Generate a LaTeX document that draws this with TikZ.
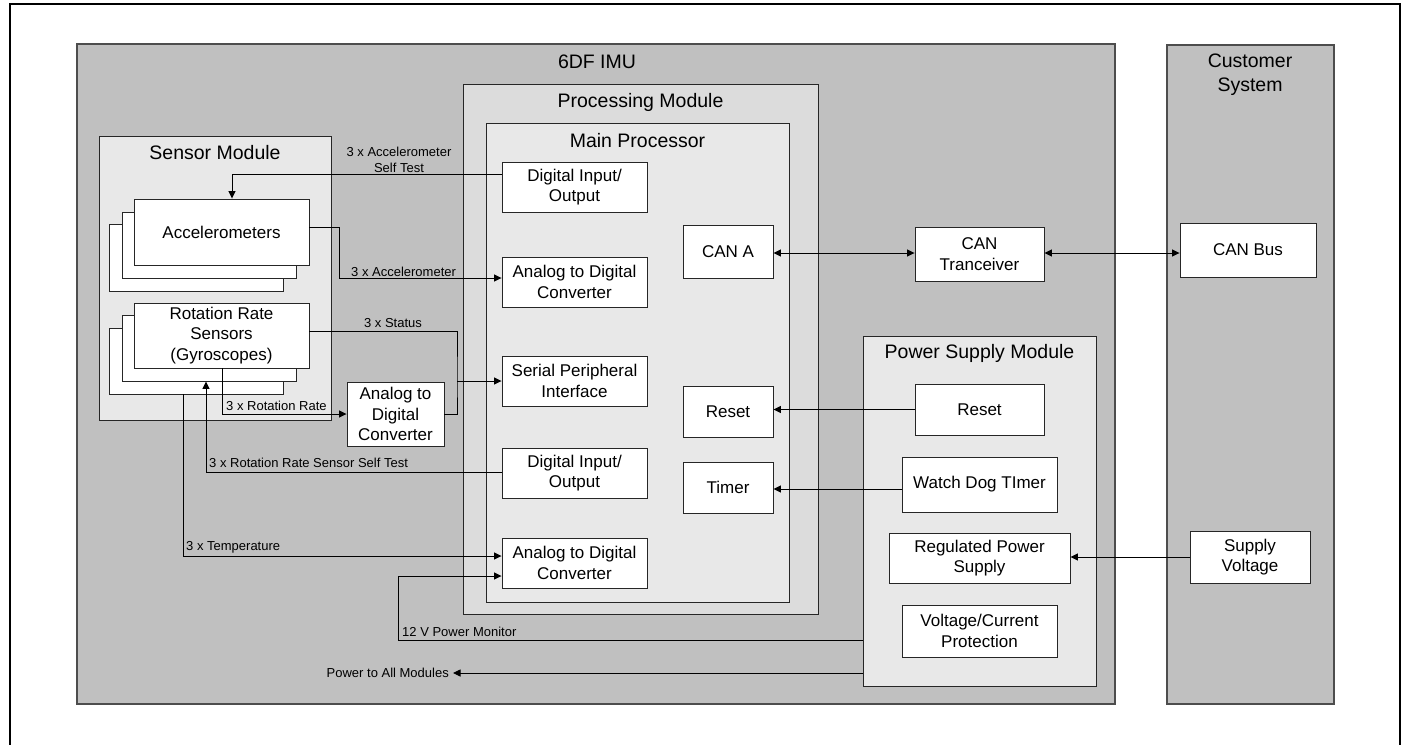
\documentclass[tikz,border=0pt]{standalone}
\usepackage{fontspec}
\setmainfont{Liberation Sans}
\usetikzlibrary{arrows.meta}
\definecolor{imugray}{HTML}{C0C0C0}
\definecolor{procgray}{HTML}{DCDCDC}
\definecolor{panelgray}{HTML}{E8E8E8}
\definecolor{edgegray}{HTML}{4D4D4D}
\definecolor{boxedge}{HTML}{262626}
\tikzset{
  area/.style={draw=edgegray, line width=1.2pt, fill=imugray, inner sep=0pt},
  panel/.style={draw=boxedge, line width=0.9pt, fill=panelgray, inner sep=0pt},
  blk/.style={draw=boxedge, line width=0.9pt, fill=white, inner sep=0pt, align=center,
    font=\fontsize{17}{20.5}\selectfont},
  ttl/.style={inner sep=0pt, align=center, font=\fontsize{19.5}{24}\selectfont},
  lbl/.style={inner sep=0pt, align=center, font=\fontsize{13}{16}\selectfont},
  wire/.style={draw=black, line width=0.9pt},
  arr/.style={wire, -{Triangle[length=7.5pt,width=7pt]}},
  darr/.style={wire, {Triangle[length=7.5pt,width=7pt]}-{Triangle[length=7.5pt,width=7pt]}},
}
\begin{document}
\begin{tikzpicture}[x=1pt,y=-1pt]
\useasboundingbox (0,0) rectangle (1405,744);
\begin{scope}
\clip (0,0) rectangle (1405,744);
% outer frame
\draw[line width=2pt] (10,770) -- (10,4) -- (1400,4) -- (1400,770);

% big areas
\node[area, minimum width=1038pt, minimum height=660pt] (imu) at (596,374) {};
\node[ttl] (imuT) at (597,62) {6DF IMU};
\node[area, minimum width=167pt, minimum height=659pt] (cust) at (1250.5,374.5) {};
\node[ttl] (custT) at (1250,75) {Customer\\System};

% sensor module
\node[panel, minimum width=232pt, minimum height=284pt] (sens) at (215,278) {};
\node[ttl] (sensT) at (215,153) {Sensor Module};
\node[blk, minimum width=174pt, minimum height=67pt] (acc3) at (196,257.5) {};
\node[blk, minimum width=174pt, minimum height=66pt] (acc2) at (209,245) {};
\node[blk, minimum width=175pt, minimum height=66pt] (acc) at (221.5,232) {Accelerometers};
\node[blk, minimum width=174pt, minimum height=66pt] (rot3) at (196,361) {};
\node[blk, minimum width=174pt, minimum height=66pt] (rot2) at (209,348) {};
\node[blk, minimum width=175pt, minimum height=65pt] (rot) at (221.5,335.5) {Rotation Rate\\Sensors\\(Gyroscopes)};
\node[blk, minimum width=97pt, minimum height=64pt] (sadc) at (395.5,414) {Analog to\\Digital\\Converter};

% processing module
\node[draw=boxedge, line width=0.9pt, fill=procgray, inner sep=0pt, minimum width=355pt, minimum height=530pt] (proc) at (640.5,349) {};
\node[ttl] (procT) at (640.5,102) {Processing Module};
\node[panel, minimum width=303pt, minimum height=479pt] (mp) at (637.5,362.5) {};
\node[ttl] (mpT) at (637.5,141) {Main Processor};
\node[blk, minimum width=145pt, minimum height=50pt] (dio1) at (574.5,187) {Digital Input/\\Output};
\node[blk, minimum width=145pt, minimum height=50pt] (adc1) at (574.5,282) {Analog to Digital\\Converter};
\node[blk, minimum width=145pt, minimum height=50pt] (spi) at (574.5,381) {Serial Peripheral\\Interface};
\node[blk, minimum width=145pt, minimum height=50pt] (dio2) at (574.5,473) {Digital Input/\\Output};
\node[blk, minimum width=145pt, minimum height=50pt] (adc2) at (574.5,563) {Analog to Digital\\Converter};
\node[blk, minimum width=90pt, minimum height=53pt] (cana) at (728,251.5) {CAN A};
\node[blk, minimum width=90pt, minimum height=51pt] (resetm) at (728,411.5) {Reset};
\node[blk, minimum width=90pt, minimum height=51pt] (timer) at (728,487.5) {Timer};

% CAN transceiver
\node[blk, minimum width=129pt, minimum height=54pt] (cantr) at (979.5,254) {CAN\\Tranceiver};

% power supply module
\node[panel, minimum width=233pt, minimum height=350pt] (psm) at (979.5,511) {};
\node[ttl] (psmT) at (979.5,353) {Power Supply Module};
\node[blk, minimum width=129pt, minimum height=51pt] (resetp) at (979.5,409.5) {Reset};
\node[blk, minimum width=155pt, minimum height=55pt] (wdt) at (979.5,484.5) {Watch Dog TImer};
\node[blk, minimum width=181pt, minimum height=50pt] (rps) at (979.5,558) {Regulated Power\\Supply};
\node[blk, minimum width=155pt, minimum height=52pt] (vcp) at (979.5,631) {Voltage/Current\\Protection};

% customer system
\node[blk, minimum width=136pt, minimum height=54pt] (canbus) at (1248,250) {CAN Bus};
\node[blk, minimum width=120pt, minimum height=52pt] (supv) at (1250,557) {Supply\\Voltage};

% connectors
\draw[arr] ([yshift=13pt]dio1.west) -| ([xshift=10.5pt]acc.north);
\node[lbl] (lAST) at (399,160) {3 x Accelerometer\\Self Test};

\draw[arr] ([yshift=5pt]acc.east) -- ++(30,0) |- ([yshift=4pt]adc1.west);
\node[lbl, anchor=west] (lAcc) at (351,272) {3 x Accelerometer};

\coordinate (jn) at (457,381);
\draw[wire] ([yshift=4.5pt]rot.east) -| (jn) |- (sadc.east);
\draw[arr] (jn) -- (spi.west);
\node[lbl] (lSt) at (393,323) {3 x Status};

\draw[arr] ([xshift=0.5pt]rot.south) |- (sadc.west);
\node[lbl, anchor=west] (lRR) at (226,406) {3 x Rotation Rate};

\draw[arr] ([yshift=1pt]dio2.west) -| ([xshift=-3pt]rot2.south);
\node[lbl, anchor=west] (lRST) at (209,463) {3 x Rotation Rate Sensor Self Test};

\draw[arr] ([xshift=-13pt]rot3.south) |- ([yshift=7pt]adc2.west);
\node[lbl, anchor=west] (lT) at (186,547) {3 x Temperature};

\draw[arr] ([yshift=-129pt]psm.west) -- ++(-464,0) |- ([yshift=-13pt]adc2.west);
\node[lbl, anchor=west] (lPM) at (402,632) {12 V Power Monitor};

\coordinate (pw) at (453,673);
\draw[arr] ([yshift=-162pt]psm.west) -- (pw);
\node[lbl, anchor=east] (lPw) at (449,673) {Power to All Modules};

\draw[arr] (resetp.west) -- (resetp.west -| resetm.east);
\draw[arr] ([yshift=-4.5pt]wdt.west) -- ([yshift=-4.5pt]wdt.west -| timer.east);
\draw[arr] (supv.west) -- (supv.west -| rps.east);
\draw[darr] ([yshift=-1.5pt]cana.east) -- ([yshift=-1.5pt]cana.east -| cantr.west);
\draw[darr] ([yshift=1pt]cantr.east) -- ([yshift=1pt]cantr.east -| canbus.west);
\end{scope}
\end{tikzpicture}
\end{document}
